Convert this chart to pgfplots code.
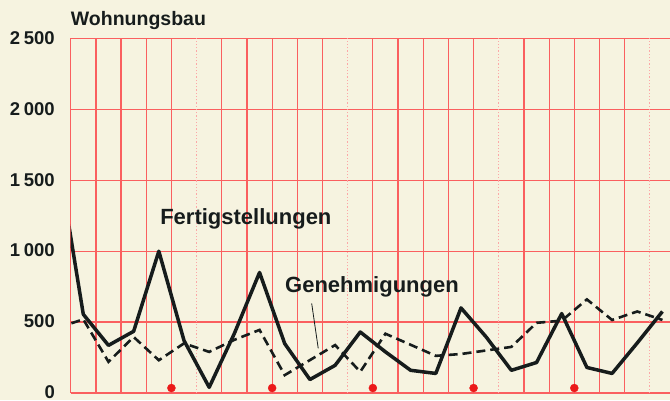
\documentclass[border=0pt]{standalone}
\usepackage{fontspec}
\setmainfont{Liberation Sans}
\usepackage{pgfplots}
\pgfplotsset{compat=1.18}
\definecolor{bg}{RGB}{246,243,224}
\definecolor{gridred}{RGB}{250,95,95}
\definecolor{dotred}{RGB}{235,25,25}
\definecolor{ink}{RGB}{22,28,28}
\begin{document}
\begin{tikzpicture}[x=1pt,y=1pt]
\fill[bg] (0,0) rectangle (670,400);
\useasboundingbox (0,0) rectangle (670,400);
\begin{axis}[
  at={(70.7pt,7pt)}, anchor=south west,
  scale only axis, width=599.3pt, height=354.5pt,
  xmin=0, xmax=23.8, ymin=0, ymax=2500,
  axis line style={draw=none},
  clip mode=individual,
  major tick length=0pt,
  xtick={0,1,2,3,4,6,7,8,9,10,12,13,14,15,16,18,19,20,21,22},
  xticklabels={},
  xticklabel style={text opacity=0},
  extra x ticks={5,11,17,23},
  extra x tick labels={},
  extra x tick style={major grid style={gridred!55, dotted, line width=1.2pt}, xticklabel style={text opacity=0}},
  ytick={0,500,1000,1500,2000,2500},
  yticklabels={0,500,1\hspace{0.2em}000,1\hspace{0.2em}500,2\hspace{0.2em}000,2\hspace{0.2em}500},
  yticklabel style={font=\fontsize{18.5}{20}\selectfont\bfseries, text=ink, inner sep=0pt, anchor=east, xshift=-15.7pt, yshift=0.6pt},
  grid=major,
  major grid style={gridred, line width=1.25pt},
]
\addplot[ink, line width=3.5pt, line join=round] coordinates {
(-0.5,1650) (0.5,555) (1.5,336) (2.5,435) (3.5,1000) (4.5,370) (5.5,40)
(6.5,420) (7.5,850) (8.5,348) (9.5,95) (10.5,195) (11.5,430) (12.5,290)
(13.5,160) (14.5,138) (15.5,600) (16.5,395) (17.5,160) (18.5,215)
(19.5,560) (20.5,180) (21.5,138) (22.5,353) (23.5,575)};
\addplot[ink, line width=2.6pt, dash pattern=on 9pt off 5pt] coordinates {
(-0.5,460) (0.5,520) (1.5,220) (2.5,395) (3.5,231) (4.5,350) (5.5,290)
(6.5,375) (7.5,445) (8.5,126) (9.5,232) (10.5,338) (11.5,150) (12.5,418)
(13.5,340) (14.5,262) (15.5,275) (16.5,300) (17.5,325) (18.5,495)
(19.5,510) (20.5,660) (21.5,515) (22.5,575) (23.5,515)};
\addplot[only marks, mark=*, mark size=4pt, dotred] coordinates {
(4,35) (8,35) (12,35) (16,35) (20,35)};
\node[anchor=base west, inner sep=0pt, text=ink, font=\fontsize{22}{24}\selectfont\bfseries] at (axis cs:3.55,1185) {Fertigstellungen};
\node[anchor=base west, inner sep=0pt, text=ink, font=\fontsize{22}{24}\selectfont\bfseries] at (axis cs:8.51,707) {Genehmigungen};
\draw[ink, line width=0.8pt] (axis cs:9.57,632) -- (axis cs:9.83,315);
\node[anchor=base west, inner sep=0pt, text=ink, font=\fontsize{19.5}{22}\selectfont\bfseries] at (axis cs:0,2595) {Wohnungsbau};
\end{axis}
\end{tikzpicture}
\end{document}
